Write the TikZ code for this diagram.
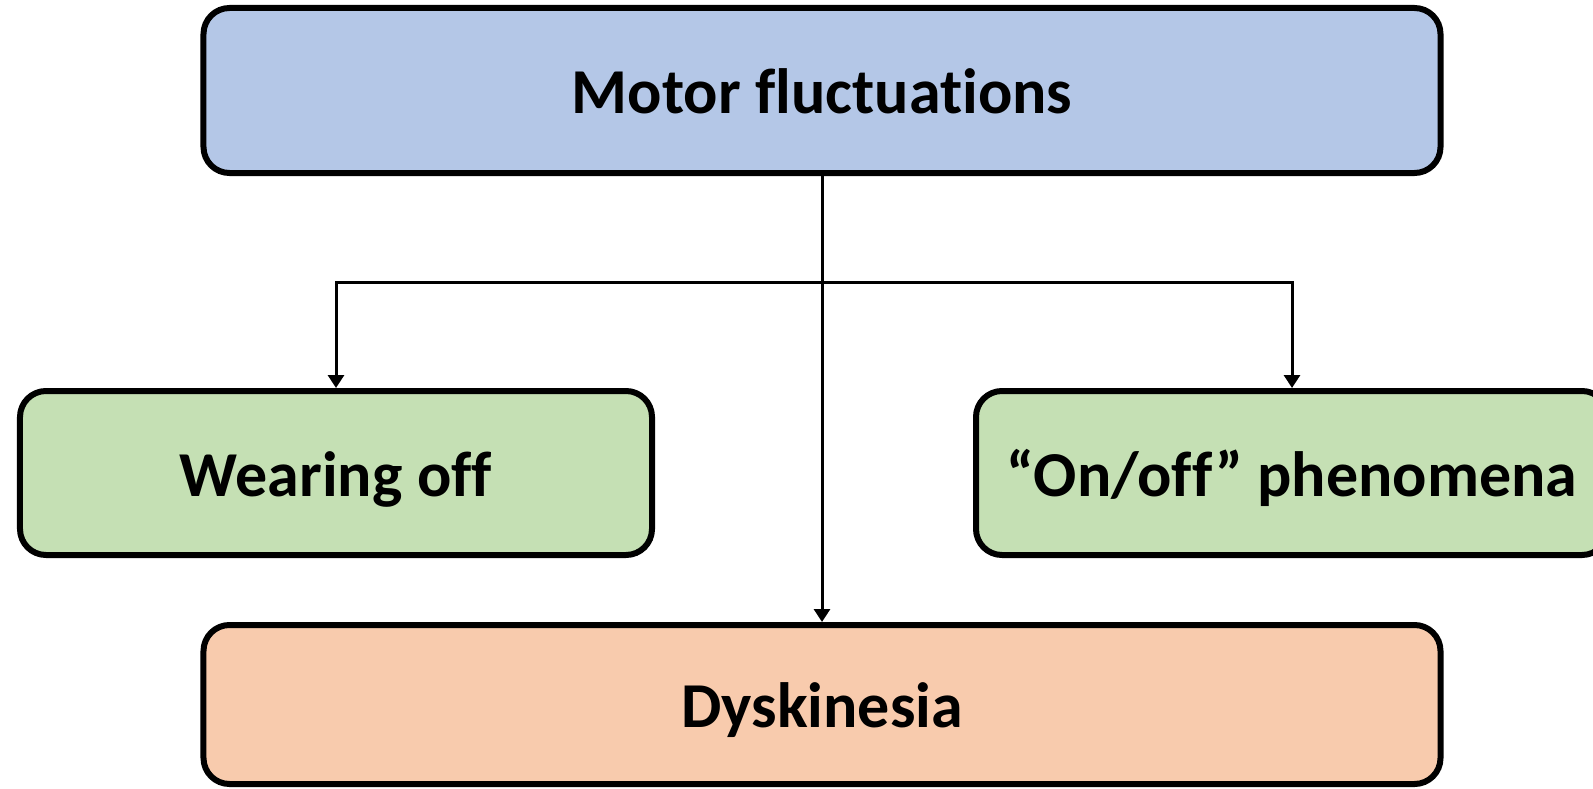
\documentclass[tikz,border=0pt]{standalone}
\usepackage{fontspec}
\setmainfont[Ligatures=NoCommon]{Carlito}
\usetikzlibrary{arrows.meta}
\definecolor{boxblue}{HTML}{B4C7E7}
\definecolor{boxgreen}{HTML}{C5E0B4}
\definecolor{boxorange}{HTML}{F8CBAD}
\tikzset{
  card/.style={draw=black, line width=6bp, rounded corners=26bp,
    inner sep=0pt, text height=46bp, text depth=0bp,
    font=\fontsize{64bp}{72bp}\selectfont\bfseries},
  link/.style={draw=black, line width=3bp},
  tip/.style={-{Triangle[width=16bp,length=13bp]}}
}
\begin{document}
\begin{tikzpicture}[x=1bp,y=-1bp]
  \clip (0,0) rectangle (1593,789);
  \fill[white] (0,0) rectangle (1593,789);
  \node[card, fill=boxblue, minimum width=1237bp, minimum height=165bp] (mf) at (822,90.5) {Motor fluctuations};
  \node[card, fill=boxgreen, minimum width=632bp, minimum height=164bp] (wo) at (336,473) {Wearing off};
  \node[card, fill=boxgreen, minimum width=632bp, minimum height=164bp] (oo) at (1292,473) {“On/off” phenomena};
  \node[card, fill=boxorange, minimum width=1237bp, minimum height=159bp] (dk) at (822,704.5) {Dyskinesia};
  \coordinate (j) at (822,282);
  \draw[link, tip] (mf.south) -- (dk.north);
  \draw[link, tip] (j) -| (wo.north);
  \draw[link, tip] (j) -| (oo.north);
\end{tikzpicture}
\end{document}
